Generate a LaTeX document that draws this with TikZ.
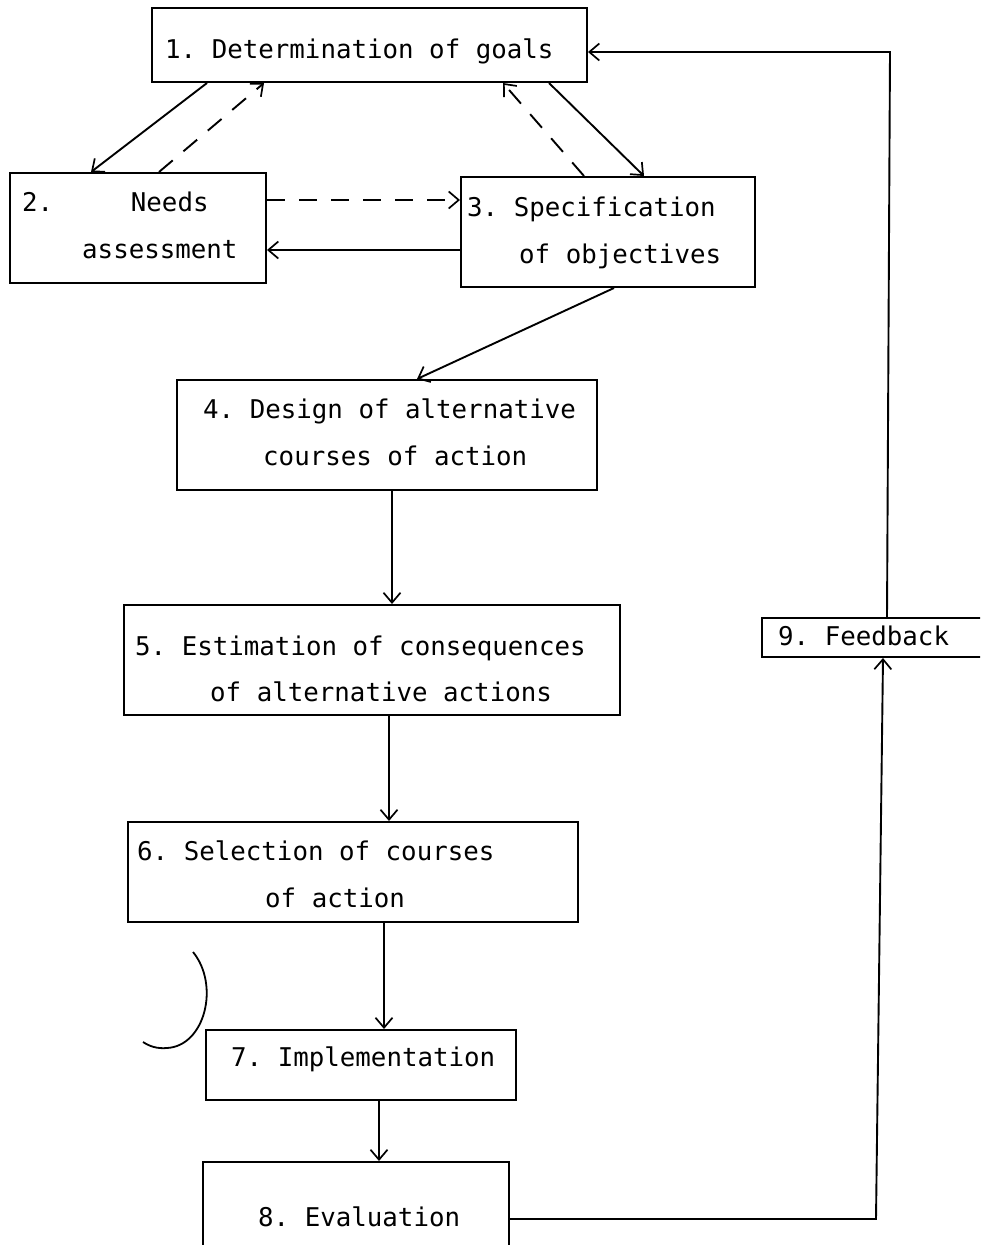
\documentclass[tikz,border=0pt]{standalone}
\usepackage{fontspec}
\setmonofont{DejaVu Sans Mono}
\usetikzlibrary{arrows.meta}
\tikzset{
  box/.style={draw, line width=2pt, inner sep=0pt, rectangle},
  txt/.style={inner sep=0pt, anchor=base west, font=\ttfamily\fontsize{25.8}{30}\selectfont},
  arr/.style={line width=1.9pt, -{Straight Barb[length=10pt,width=17pt,line width=1.7pt]}},
  dsh/.style={arr, dash pattern=on 18pt off 14pt},
  stroke/.style={line width=1.8pt}
}
\begin{document}
\begin{tikzpicture}[x=1pt,y=-1pt]
\useasboundingbox (0,0) rectangle (980,1245);
\clip (0,0) rectangle (980,1245);
% boxes
\node[box, minimum width=435pt, minimum height=74pt] (b1) at (369.5,45) {};
\node[box, minimum width=256pt, minimum height=110pt] (b2) at (138,228) {};
\node[box, minimum width=294pt, minimum height=110pt] (b3) at (608,232) {};
\node[box, minimum width=420pt, minimum height=110pt] (b4) at (387,435) {};
\node[box, minimum width=496pt, minimum height=110pt] (b5) at (372,660) {};
\node[box, minimum width=450pt, minimum height=100pt] (b6) at (353,872) {};
\node[box, minimum width=310pt, minimum height=70pt] (b7) at (361,1065) {};
\node[box, minimum width=306pt, minimum height=98pt] (b8) at (356,1211) {};
\node[box, minimum width=240pt, minimum height=39pt] (b9) at (882,637.5) {};
% texts
\node[txt] (t1) at (165,58) {1. Determination of goals};
\node[txt] (t2a) at (22,211) {2.\ \ \ \ \ Needs};
\node[txt] (t2b) at (82,258) {assessment};
\node[txt] (t3a) at (467,216) {3. Specification};
\node[txt] (t3b) at (519,263) {of objectives};
\node[txt] (t4a) at (203,418) {4. Design of alternative};
\node[txt] (t4b) at (263,465) {courses of action};
\node[txt] (t5a) at (135,655) {5. Estimation of consequences};
\node[txt] (t5b) at (210,701) {of alternative actions};
\node[txt] (t6a) at (137,860) {6. Selection of courses};
\node[txt] (t6b) at (265,907) {of action};
\node[txt] (t7) at (231,1066) {7. Implementation};
\node[txt] (t8) at (258,1226) {8. Evaluation};
\node[txt] (t9) at (778,645) {9. Feedback};
% connectors between 1, 2, 3
\draw[arr] ([xshift=56pt]b1.south west) -- ([xshift=82pt]b2.north west);
\draw[dsh] ([xshift=150pt]b2.north west) -- ([xshift=113pt]b1.south west);
\draw[arr] ([xshift=-39pt]b1.south east) -- ([xshift=184pt]b3.north west);
\draw[dsh] ([xshift=124pt]b3.north west) -- ([xshift=-85pt]b1.south east);
\draw[dsh] ([yshift=28pt]b2.east) -- ([yshift=32pt]b3.west);
\draw[arr] ([yshift=-18pt]b3.west) -- ([yshift=-22pt]b2.east);
% main chain
\draw[arr] ([xshift=154pt]b3.south west) -- ([xshift=241pt]b4.north west);
\draw[arr] ([xshift=216pt]b4.south west) -- ([xshift=269pt]b5.north west);
\draw[arr] ([xshift=266pt]b5.south west) -- ([xshift=262pt]b6.north west);
\draw[arr] ([xshift=257pt]b6.south west) -- ([xshift=179pt]b7.north west);
\draw[arr] ([xshift=174pt]b7.south west) -- ([xshift=177pt]b8.north west);
% feedback loop
\coordinate (c1) at (876,1219);
\coordinate (c2) at (890,52);
\draw[arr] ([yshift=-8pt]b8.east) -- (c1) -- ([xshift=122pt]b9.south west);
\draw[arr] ([xshift=126pt]b9.north west) -- (c2) -- ([yshift=-7pt]b1.east);
% stray pen stroke
\draw[stroke] (193,952) .. controls (220,985) and (205,1046) .. (167,1048)
  .. controls (157,1049) and (149,1046) .. (143,1042);
\end{tikzpicture}
\end{document}
